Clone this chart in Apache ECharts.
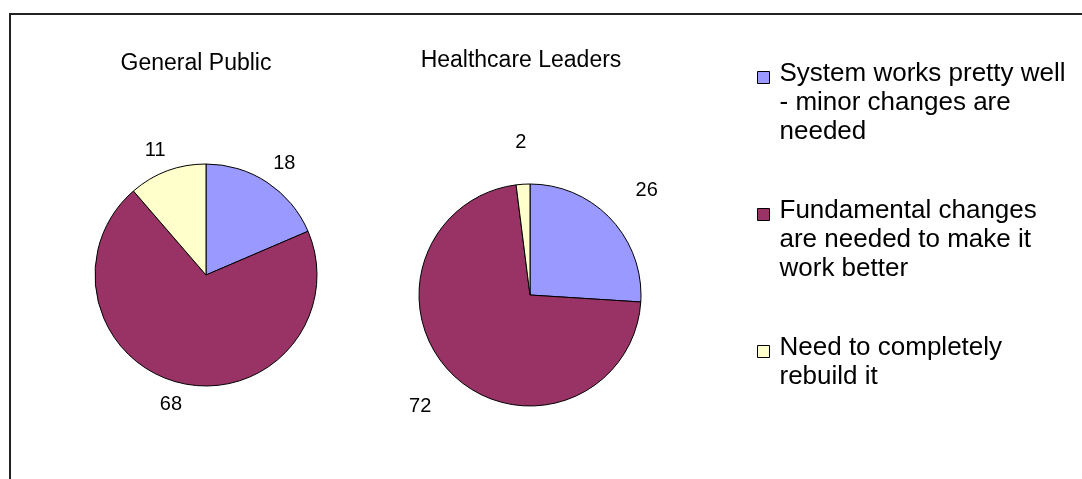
<!DOCTYPE html>
<html>
<head>
<meta charset="utf-8">
<script src="https://cdn.jsdelivr.net/npm/echarts@6/dist/echarts.min.js"></script>
<style>
html,body{margin:0;padding:0;background:#fff;}
#chart{width:1082px;height:479px;}
</style>
</head>
<body>
<div id="chart"></div>
<script>
// ---- data ----
const categories = [
  'System works pretty well - minor changes are needed',
  'Fundamental changes are needed to make it work better',
  'Need to completely rebuild it'
];
const legendLines = [
  ['System works pretty well', '- minor changes are', 'needed'],
  ['Fundamental changes', 'are needed to make it', 'work better'],
  ['Need to completely', 'rebuild it']
];
const pieTitles = ['General Public', 'Healthcare Leaders'];
const generalPublic = [18, 68, 11];
const healthcareLeaders = [26, 72, 2];
const colors = ['#9999FF', '#993366', '#FFFFCC'];

const FONT = '"Liberation Sans", Arial, sans-serif';

function buildData(values) {
  return values.map((v, i) => ({ name: categories[i], value: v }));
}

function pieSeries(values, center, lineLen) {
  return {
    type: 'pie',
    center: center,
    radius: 111,
    startAngle: 90,
    clockwise: true,
    avoidLabelOverlap: false,
    data: buildData(values),
    itemStyle: { borderColor: '#000', borderWidth: 1 },
    label: {
      show: true,
      position: 'outside',
      formatter: '{c}',
      fontFamily: FONT,
      fontSize: 20,
      color: '#000',
      distanceToLabelLine: -6
    },
    labelLine: { show: false, length: lineLen, length2: 0 },
    emphasis: { disabled: true },
    animation: false
  };
}

const legendFormatter = function (name) {
  const idx = categories.indexOf(name);
  const lines = legendLines[idx].map(s => '{t|' + s + '}');
  // spacer lines above so the first line sits next to the legend marker
  const padded = ['{s| }', '{s| }'].concat(lines);
  while (padded.length < 5) padded.push('{t| }');
  return padded.join('\n');
};

const chart = echarts.init(document.getElementById('chart'), null, { renderer: 'canvas' });
chart.setOption({
  animation: false,
  color: colors,
  backgroundColor: '#fff',
  title: [
    { text: pieTitles[0], left: 191, top: 47, textAlign: 'center',
      textStyle: { fontFamily: FONT, fontSize: 23, fontWeight: 'normal', color: '#000' } },
    { text: pieTitles[1], left: 516, top: 44, textAlign: 'center',
      textStyle: { fontFamily: FONT, fontSize: 23, fontWeight: 'normal', color: '#000' } }
  ],
  legend: {
    orient: 'vertical',
    left: 757,
    top: 9,
    padding: 0,
    itemWidth: 12,
    itemHeight: 12,
    itemGap: 0,
    icon: 'rect',
    selectedMode: false,
    data: categories,
    formatter: legendFormatter,
    itemStyle: { borderColor: '#000', borderWidth: 1 },
    textStyle: {
      fontFamily: FONT, fontSize: 26, color: '#000', lineHeight: 29, padding: [0, 0, 0, 5],
      rich: {
        t: { fontFamily: FONT, fontSize: 26, color: '#000', lineHeight: 29 },
        s: { fontFamily: FONT, fontSize: 10, lineHeight: 25 }
      }
    }
  },
  graphic: [
    { type: 'rect', shape: { x: 10, y: 14, width: 1100, height: 500 },
      style: { fill: 'none', stroke: '#222', lineWidth: 2 }, silent: true }
  ],
  series: [
    pieSeries(generalPublic, [206, 275], 22),
    pieSeries(healthcareLeaders, [530, 295], 42)
  ]
});
</script>
</body>
</html>
